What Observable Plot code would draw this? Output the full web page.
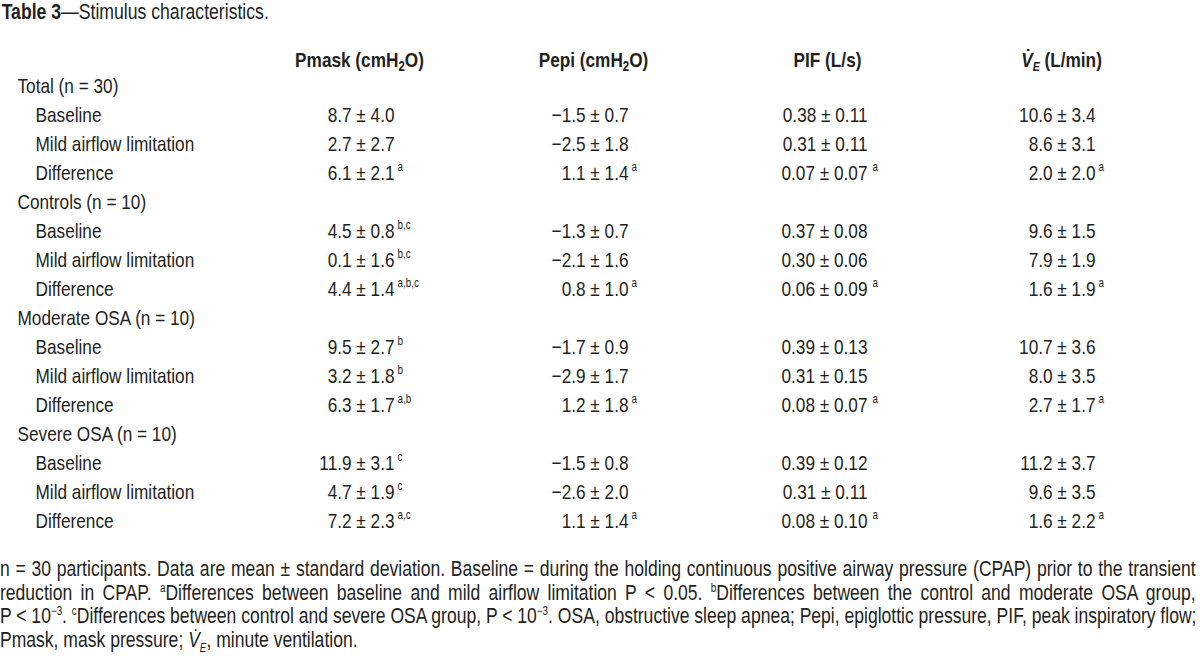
<!DOCTYPE html>
<html>
<head>
<meta charset="utf-8">
<script src="https://cdn.jsdelivr.net/npm/d3@7"></script>
<script src="https://cdn.jsdelivr.net/npm/@observablehq/plot@0.6"></script>
<style>
  html, body { margin: 0; padding: 0; background: #fff; }
  body { width: 1200px; height: 663px; overflow: hidden; font-family: 'Liberation Sans Narrow', 'Arial Narrow', 'Liberation Sans', Arial, sans-serif; color: #231f20; }
  .narrow { transform: scaleX(0.82); transform-origin: 0 0; }
  #title { height: 24px; line-height: 24px; font-size: 21.5px; padding-left: 2px; white-space: nowrap; width: 1400px; }
  #chart svg { display: block; }
  #foot { width: 1458px; font-size: 21.4px; line-height: 23.7px; }
  #foot div { white-space: nowrap; }
  #foot .j { text-align: justify; text-align-last: justify; }
  #foot sup, #foot sub { font-size: 12px; line-height: 0; }
</style>
</head>
<body>
<div id="title" class="narrow"><b>Table 3</b>—Stimulus characteristics.</div>
<div id="chart"></div>
<div id="foot" class="narrow">
  <div class="j">n = 30 participants. Data are mean ± standard deviation. Baseline = during the holding continuous positive airway pressure (CPAP) prior to the transient</div>
  <div class="j">reduction in CPAP. <sup>a</sup>Differences between baseline and mild airflow limitation P &lt; 0.05. <sup>b</sup>Differences between the control and moderate OSA group,</div>
  <div class="j">P &lt; 10<sup>−3</sup>. <sup>c</sup>Differences between control and severe OSA group, P &lt; 10<sup>−3</sup>. OSA, obstructive sleep apnea; Pepi, epiglottic pressure, PIF, peak inspiratory flow;</div>
  <div>Pmask, mask pressure; <i>V̇<sub>E</sub></i>, minute ventilation.</div>
</div>
<script>
// ---- data ----
const columns = ["Pmask", "Pepi", "PIF", "VE"];
const headerLabels = ["Pmask (cmH₂O)", "Pepi (cmH₂O)", "PIF (L/s)", "V̇E (L/min)"];

const rowLabels = [
  "Total (n = 30)", "Baseline", "Mild airflow limitation", "Difference",
  "Controls (n = 10)", "Baseline", "Mild airflow limitation", "Difference",
  "Moderate OSA (n = 10)", "Baseline", "Mild airflow limitation", "Difference",
  "Severe OSA (n = 10)", "Baseline", "Mild airflow limitation", "Difference"
];
const rowLevel = [0,1,1,1, 0,1,1,1, 0,1,1,1, 0,1,1,1];

const pmask    = ["", "8.7 ± 4.0", "2.7 ± 2.7", "6.1 ± 2.1", "", "4.5 ± 0.8", "0.1 ± 1.6", "4.4 ± 1.4", "", "9.5 ± 2.7", "3.2 ± 1.8", "6.3 ± 1.7", "", "11.9 ± 3.1", "4.7 ± 1.9", "7.2 ± 2.3"];
const pmaskSup = ["", "", "", "a", "", "b,c", "b,c", "a,b,c", "", "b", "b", "a,b", "", "c", "c", "a,c"];
const pepi     = ["", "−1.5 ± 0.7", "−2.5 ± 1.8", "1.1 ± 1.4", "", "−1.3 ± 0.7", "−2.1 ± 1.6", "0.8 ± 1.0", "", "−1.7 ± 0.9", "−2.9 ± 1.7", "1.2 ± 1.8", "", "−1.5 ± 0.8", "−2.6 ± 2.0", "1.1 ± 1.4"];
const pepiSup  = ["", "", "", "a", "", "", "", "a", "", "", "", "a", "", "", "", "a"];
const pif      = ["", "0.38 ± 0.11", "0.31 ± 0.11", "0.07 ± 0.07", "", "0.37 ± 0.08", "0.30 ± 0.06", "0.06 ± 0.09", "", "0.39 ± 0.13", "0.31 ± 0.15", "0.08 ± 0.07", "", "0.39 ± 0.12", "0.31 ± 0.11", "0.08 ± 0.10"];
const pifSup   = ["", "", "", "a", "", "", "", "a", "", "", "", "a", "", "", "", "a"];
const ve       = ["", "10.6 ± 3.4", "8.6 ± 3.1", "2.0 ± 2.0", "", "9.6 ± 1.5", "7.9 ± 1.9", "1.6 ± 1.9", "", "10.7 ± 3.6", "8.0 ± 3.5", "2.7 ± 1.7", "", "11.2 ± 3.7", "9.6 ± 3.5", "1.6 ± 2.2"];
const veSup    = ["", "", "", "a", "", "", "", "a", "", "", "", "a", "", "", "", "a"];

// ---- build tables for the library ----
const colValues = {Pmask: pmask, Pepi: pepi, PIF: pif, VE: ve};
const colSups = {Pmask: pmaskSup, Pepi: pepiSup, PIF: pifSup, VE: veSup};
const rows = rowLabels.map((label, i) => ({i, label, level: rowLevel[i]}));
const headers = columns.map((c, k) => ({col: c, label: headerLabels[k]}));
const cells = columns.flatMap(c => colValues[c].map((v, i) => ({col: c, i, value: v, sup: colSups[c][i]})));

// layout (styling only)
const font = "'Liberation Sans Narrow', 'Arial Narrow', 'Liberation Sans', Arial, sans-serif";
const fs = 21;
const ink = "#231f20";
const squeeze = 0.82;
const rightOffset = {Pmask: 35, Pepi: 35, PIF: 40, VE: 34};

const marks = [];
marks.push(Plot.text(headers, {x: "col", text: "label", frameAnchor: "top", dy: 28, fontWeight: "bold", fontSize: fs, fill: ink}));
marks.push(Plot.text(rows.filter(r => r.level === 0), {y: "i", text: "label", frameAnchor: "left", dx: 17, textAnchor: "start", fontSize: fs, fill: ink}));
marks.push(Plot.text(rows.filter(r => r.level === 1), {y: "i", text: "label", frameAnchor: "left", dx: 35, textAnchor: "start", fontSize: fs, fill: ink}));
for (const c of columns) {
  const data = cells.filter(d => d.col === c && d.value);
  marks.push(Plot.text(data, {x: "col", y: "i", text: "value", textAnchor: "end", dx: rightOffset[c], fontSize: fs, fill: ink}));
  marks.push(Plot.text(data.filter(d => d.sup), {x: "col", y: "i", text: "sup", textAnchor: "start", dx: rightOffset[c] + (c === "PIF" ? 5 : 3), dy: -6, fontSize: 12, fill: ink}));
}

const svg = Plot.plot({
  width: 1200,
  height: 534,
  margin: 0,
  style: {fontFamily: font, background: "#fff", color: ink},
  x: {type: "point", domain: columns, range: [358, 1061], padding: 0, axis: null},
  y: {type: "point", domain: d3.range(rowLabels.length), range: [56, 502], padding: 0, axis: null},
  marks
});

// header subscripts / italics
d3.select(svg).selectAll("text").filter(function() { return headerLabels.includes(this.textContent); }).each(function() {
  const s = this.textContent;
  const t = d3.select(this);
  const m = s.indexOf("₂");
  if (s.startsWith("V̇E")) {
    t.text(null);
    t.append("tspan").attr("font-style", "italic").text("V̇");
    t.append("tspan").attr("font-style", "italic").attr("font-size", 13).attr("dy", 4).text("E");
    t.append("tspan").attr("dy", -4).text(" " + s.slice(3).trim());
  } else if (m >= 0) {
    t.text(null);
    t.append("tspan").text(s.slice(0, m));
    t.append("tspan").attr("font-size", 14).attr("dy", 4).text("2");
    t.append("tspan").attr("dy", -4).text(s.slice(m + 1));
  }
});

// condensed type (no narrow face installed): squeeze each text horizontally about its anchor
d3.select(svg).selectAll("text").each(function() {
  let tr = this.getAttribute("transform") || "";
  const xa = this.getAttribute("x");
  if (xa != null && /^-?[\d.]+$/.test(xa.trim())) {
    tr += ` translate(${xa},0)`;
    this.removeAttribute("x");
  }
  this.setAttribute("transform", `${tr} scale(${squeeze},1)`.trim());
});

document.getElementById("chart").appendChild(svg);
</script>
</body>
</html>
